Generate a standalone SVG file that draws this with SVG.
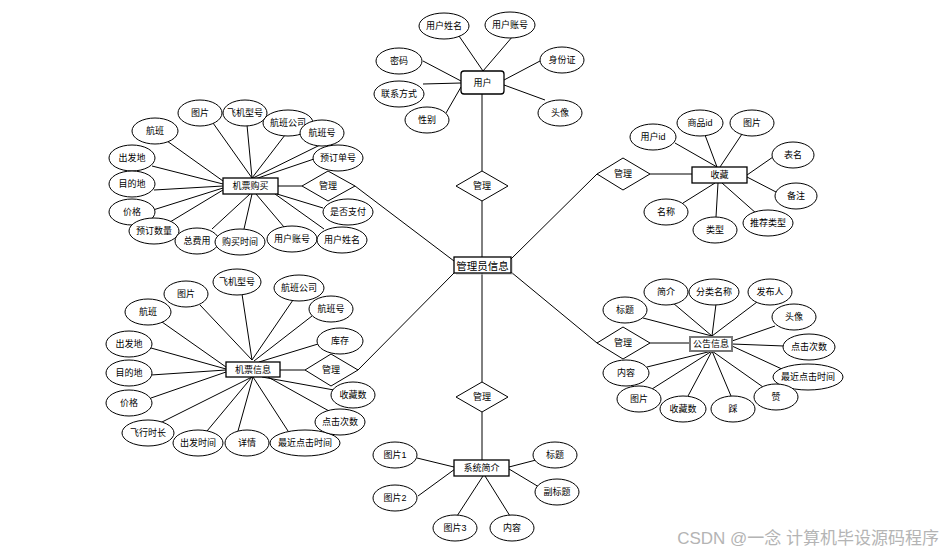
<svg xmlns="http://www.w3.org/2000/svg" width="944" height="552" viewBox="0 0 944 552">
<style>
.l{stroke:#000;stroke-width:1;fill:none}
.e{fill:#fff;stroke:#000;stroke-width:1}
.d{fill:#fff;stroke:#000;stroke-width:1}
.r{fill:#fff;stroke:#000;stroke-width:1.3}
text{font-family:"Liberation Sans","Noto Sans CJK SC",sans-serif;font-size:9px;fill:#000;text-anchor:middle;dominant-baseline:central}
.big{font-size:10.5px}
.wm{font-size:17px;fill:#b4b4b4;text-anchor:end;dominant-baseline:alphabetic}
</style>
<rect width="944" height="552" fill="#fff"/>
<g id="connectors">
<line class="l" x1="459" y1="36" x2="483" y2="71"/>
<line class="l" x1="513" y1="36" x2="483" y2="71"/>
<line class="l" x1="423" y1="61" x2="461" y2="81"/>
<line class="l" x1="540" y1="61" x2="504" y2="80"/>
<line class="l" x1="423" y1="84" x2="461" y2="83"/>
<line class="l" x1="446" y1="113" x2="461" y2="87"/>
<line class="l" x1="545" y1="100" x2="504" y2="85"/>
<line class="l" x1="482" y1="94" x2="482" y2="171"/>
<line class="l" x1="482" y1="201" x2="482" y2="257"/>
<line class="l" x1="482" y1="273" x2="482" y2="382"/>
<line class="l" x1="482" y1="412" x2="482" y2="460"/>
<line class="l" x1="355" y1="186" x2="454" y2="261"/>
<line class="l" x1="358" y1="370" x2="455" y2="272"/>
<line class="l" x1="597" y1="174" x2="511" y2="259"/>
<line class="l" x1="597" y1="343" x2="511" y2="272"/>
<line class="l" x1="278" y1="186" x2="302" y2="186"/>
<line class="l" x1="213" y1="123" x2="252" y2="178"/>
<line class="l" x1="247" y1="125" x2="252" y2="178"/>
<line class="l" x1="285" y1="135" x2="252" y2="178"/>
<line class="l" x1="320" y1="145" x2="253" y2="178"/>
<line class="l" x1="314" y1="159" x2="255" y2="179"/>
<line class="l" x1="167" y1="141" x2="223" y2="181"/>
<line class="l" x1="152" y1="166" x2="223" y2="184"/>
<line class="l" x1="154" y1="190" x2="223" y2="186"/>
<line class="l" x1="153" y1="210" x2="223" y2="188"/>
<line class="l" x1="170" y1="222" x2="223" y2="190"/>
<line class="l" x1="212" y1="229" x2="250" y2="194"/>
<line class="l" x1="244" y1="229" x2="252" y2="194"/>
<line class="l" x1="284" y1="227" x2="256" y2="194"/>
<line class="l" x1="324" y1="229" x2="275" y2="194"/>
<line class="l" x1="323" y1="208" x2="277" y2="194"/>
<line class="l" x1="280" y1="370" x2="305" y2="370"/>
<line class="l" x1="200" y1="305" x2="252" y2="360"/>
<line class="l" x1="242" y1="294" x2="252" y2="360"/>
<line class="l" x1="293" y1="300" x2="252" y2="360"/>
<line class="l" x1="312" y1="316" x2="254" y2="361"/>
<line class="l" x1="318" y1="344" x2="259" y2="362"/>
<line class="l" x1="162" y1="322" x2="226" y2="367"/>
<line class="l" x1="151" y1="348" x2="226" y2="369"/>
<line class="l" x1="151" y1="375" x2="226" y2="370"/>
<line class="l" x1="151" y1="398" x2="226" y2="372"/>
<line class="l" x1="160" y1="423" x2="252" y2="377"/>
<line class="l" x1="207" y1="431" x2="252" y2="377"/>
<line class="l" x1="238" y1="431" x2="253" y2="377"/>
<line class="l" x1="288" y1="431" x2="253" y2="377"/>
<line class="l" x1="329" y1="411" x2="268" y2="377"/>
<line class="l" x1="334" y1="390" x2="262" y2="377"/>
<line class="l" x1="650" y1="174" x2="692" y2="174"/>
<line class="l" x1="675" y1="143" x2="717" y2="167"/>
<line class="l" x1="705" y1="135" x2="717" y2="167"/>
<line class="l" x1="742" y1="134" x2="720" y2="167"/>
<line class="l" x1="773" y1="157" x2="747" y2="175"/>
<line class="l" x1="776" y1="192" x2="747" y2="177"/>
<line class="l" x1="757" y1="214" x2="722" y2="183"/>
<line class="l" x1="716" y1="217" x2="718" y2="183"/>
<line class="l" x1="683" y1="203" x2="715" y2="183"/>
<line class="l" x1="650" y1="343" x2="690" y2="343"/>
<line class="l" x1="643" y1="318" x2="712" y2="336"/>
<line class="l" x1="673" y1="303" x2="712" y2="336"/>
<line class="l" x1="716" y1="304" x2="712" y2="336"/>
<line class="l" x1="757" y1="302" x2="712" y2="336"/>
<line class="l" x1="775" y1="326" x2="732" y2="341"/>
<line class="l" x1="784" y1="346" x2="732" y2="344"/>
<line class="l" x1="784" y1="370" x2="732" y2="346"/>
<line class="l" x1="763" y1="387" x2="712" y2="351"/>
<line class="l" x1="731" y1="396" x2="712" y2="351"/>
<line class="l" x1="688" y1="396" x2="712" y2="351"/>
<line class="l" x1="652" y1="389" x2="712" y2="351"/>
<line class="l" x1="647" y1="367" x2="712" y2="351"/>
<line class="l" x1="417" y1="458" x2="454" y2="467"/>
<line class="l" x1="418" y1="496" x2="455" y2="469"/>
<line class="l" x1="457" y1="516" x2="483" y2="476"/>
<line class="l" x1="510" y1="516" x2="485" y2="476"/>
<line class="l" x1="536" y1="460" x2="509" y2="467"/>
<line class="l" x1="539" y1="487" x2="509" y2="469"/>
</g>

<g id="admin">
<rect x="456" y="259" width="57" height="16" fill="#bbb" opacity="0.5"/>
<rect class="r" x="454" y="257" width="57" height="16"/>
<text class="big" x="482.5" y="265.5">管理员信息</text>
</g>

<g id="user">
<rect class="r" x="461" y="71" width="43" height="23" rx="3"/>
<text x="482.5" y="82.5">用户</text>
</g>
<g id="u-name"><ellipse class="e" cx="444" cy="26" rx="25" ry="13"/><text x="444" y="26">用户姓名</text></g>
<g id="u-acc"><ellipse class="e" cx="510" cy="25" rx="25" ry="13"/><text x="510" y="25">用户账号</text></g>
<g id="u-pwd"><ellipse class="e" cx="399" cy="61" rx="23" ry="13"/><text x="399" y="61">密码</text></g>
<g id="u-id"><ellipse class="e" cx="562" cy="60" rx="22" ry="13"/><text x="562" y="60">身份证</text></g>
<g id="u-contact"><ellipse class="e" cx="399" cy="94" rx="25" ry="13"/><text x="399" y="94">联系方式</text></g>
<g id="u-sex"><ellipse class="e" cx="427" cy="120" rx="22" ry="13"/><text x="427" y="120">性别</text></g>
<g id="u-avatar"><ellipse class="e" cx="560" cy="113" rx="22" ry="13"/><text x="560" y="113">头像</text></g>

<g id="m-top"><polygon class="d" points="482,171 508,186 482,201 456,186"/><text x="482" y="186">管理</text></g>
<g id="m-bottom"><polygon class="d" points="482,382 508,397 482,412 456,397"/><text x="482" y="397">管理</text></g>
<g id="m-buy"><polygon class="d" points="328,171 355,186 328,201 302,186"/><text x="328" y="186">管理</text></g>
<g id="m-ticket"><polygon class="d" points="331,354 358,370 331,386 305,370"/><text x="331" y="370">管理</text></g>
<g id="m-fav"><polygon class="d" points="623,158 650,174 623,190 597,174"/><text x="623" y="174">管理</text></g>
<g id="m-notice"><polygon class="d" points="623,327 650,343 623,359 597,343"/><text x="623" y="343">管理</text></g>

<g id="buy">
<rect class="r" x="223" y="178" width="55" height="16"/>
<text x="250.5" y="186">机票购买</text>
</g>
<g id="b1"><ellipse class="e" cx="200" cy="113" rx="22" ry="13"/><text x="200" y="113">图片</text></g>
<g id="b2"><ellipse class="e" cx="245" cy="113" rx="22" ry="13"/><text x="245" y="113">飞机型号</text></g>
<g id="b3"><ellipse class="e" cx="288" cy="123" rx="25" ry="13"/><text x="288" y="123">航班公司</text></g>
<g id="b4"><ellipse class="e" cx="322" cy="133" rx="22" ry="13"/><text x="322" y="133">航班号</text></g>
<g id="b5"><ellipse class="e" cx="338" cy="158" rx="25" ry="13"/><text x="338" y="158">预订单号</text></g>
<g id="b6"><ellipse class="e" cx="155" cy="131" rx="23" ry="13"/><text x="155" y="131">航班</text></g>
<g id="b7"><ellipse class="e" cx="132" cy="158" rx="23" ry="13"/><text x="132" y="158">出发地</text></g>
<g id="b8"><ellipse class="e" cx="132" cy="184" rx="23" ry="13"/><text x="132" y="184">目的地</text></g>
<g id="b9"><ellipse class="e" cx="132" cy="212" rx="23" ry="13"/><text x="132" y="212">价格</text></g>
<g id="b10"><ellipse class="e" cx="154" cy="231" rx="25" ry="13"/><text x="154" y="231">预订数量</text></g>
<g id="b11"><ellipse class="e" cx="197" cy="241" rx="22" ry="13"/><text x="197" y="241">总费用</text></g>
<g id="b12"><ellipse class="e" cx="240" cy="242" rx="25" ry="13"/><text x="240" y="242">购买时间</text></g>
<g id="b13"><ellipse class="e" cx="292" cy="239" rx="25" ry="13"/><text x="292" y="239">用户账号</text></g>
<g id="b14"><ellipse class="e" cx="342" cy="240" rx="25" ry="13"/><text x="342" y="240">用户姓名</text></g>
<g id="b15"><ellipse class="e" cx="348" cy="212" rx="25" ry="13"/><text x="348" y="212">是否支付</text></g>

<g id="ticket">
<rect class="r" x="226" y="362" width="54" height="15"/>
<text x="253" y="369.5">机票信息</text>
</g>
<g id="t1"><ellipse class="e" cx="186" cy="294" rx="22" ry="13"/><text x="186" y="294">图片</text></g>
<g id="t2"><ellipse class="e" cx="237" cy="282" rx="24" ry="13"/><text x="237" y="282">飞机型号</text></g>
<g id="t3"><ellipse class="e" cx="299" cy="288" rx="25" ry="13"/><text x="299" y="288">航班公司</text></g>
<g id="t4"><ellipse class="e" cx="331" cy="309" rx="22" ry="13"/><text x="331" y="309">航班号</text></g>
<g id="t5"><ellipse class="e" cx="340" cy="341" rx="23" ry="13"/><text x="340" y="341">库存</text></g>
<g id="t6"><ellipse class="e" cx="148" cy="312" rx="23" ry="13"/><text x="148" y="312">航班</text></g>
<g id="t7"><ellipse class="e" cx="129" cy="344" rx="23" ry="13"/><text x="129" y="344">出发地</text></g>
<g id="t8"><ellipse class="e" cx="129" cy="373" rx="23" ry="13"/><text x="129" y="373">目的地</text></g>
<g id="t9"><ellipse class="e" cx="129" cy="403" rx="23" ry="13"/><text x="129" y="403">价格</text></g>
<g id="t10"><ellipse class="e" cx="148" cy="433" rx="26" ry="13"/><text x="148" y="433">飞行时长</text></g>
<g id="t11"><ellipse class="e" cx="198" cy="443" rx="25" ry="13"/><text x="198" y="443">出发时间</text></g>
<g id="t12"><ellipse class="e" cx="247" cy="443" rx="22" ry="13"/><text x="247" y="443">详情</text></g>
<g id="t13"><ellipse class="e" cx="305" cy="443" rx="35" ry="13"/><text x="305" y="443">最近点击时间</text></g>
<g id="t14"><ellipse class="e" cx="340" cy="422" rx="25" ry="13"/><text x="340" y="422">点击次数</text></g>
<g id="t15"><ellipse class="e" cx="353" cy="395" rx="22" ry="13"/><text x="353" y="395">收藏数</text></g>

<g id="fav">
<rect class="r" x="692" y="167" width="55" height="16"/>
<text x="719.5" y="175">收藏</text>
</g>
<g id="f1"><ellipse class="e" cx="653" cy="137" rx="23" ry="13"/><text x="653" y="137">用户id</text></g>
<g id="f2"><ellipse class="e" cx="700" cy="123" rx="23" ry="13"/><text x="700" y="123">商品id</text></g>
<g id="f3"><ellipse class="e" cx="752" cy="123" rx="22" ry="13"/><text x="752" y="123">图片</text></g>
<g id="f4"><ellipse class="e" cx="793" cy="155" rx="21" ry="13"/><text x="793" y="155">表名</text></g>
<g id="f5"><ellipse class="e" cx="796" cy="196" rx="21" ry="13"/><text x="796" y="196">备注</text></g>
<g id="f6"><ellipse class="e" cx="768" cy="223" rx="25" ry="13"/><text x="768" y="223">推荐类型</text></g>
<g id="f7"><ellipse class="e" cx="715" cy="230" rx="22" ry="13"/><text x="715" y="230">类型</text></g>
<g id="f8"><ellipse class="e" cx="666" cy="212" rx="22" ry="13"/><text x="666" y="212">名称</text></g>

<g id="notice">
<rect x="690" y="337" width="42" height="14" fill="#fff" stroke="#777" stroke-width="2"/>
<text x="711" y="344">公告信息</text>
</g>
<g id="n1"><ellipse class="e" cx="625" cy="310" rx="22" ry="13"/><text x="625" y="310">标题</text></g>
<g id="n2"><ellipse class="e" cx="666" cy="292" rx="22" ry="13"/><text x="666" y="292">简介</text></g>
<g id="n3"><ellipse class="e" cx="714" cy="292" rx="25" ry="13"/><text x="714" y="292">分类名称</text></g>
<g id="n4"><ellipse class="e" cx="770" cy="292" rx="22" ry="13"/><text x="770" y="292">发布人</text></g>
<g id="n5"><ellipse class="e" cx="794" cy="317" rx="22" ry="13"/><text x="794" y="317">头像</text></g>
<g id="n6"><ellipse class="e" cx="809" cy="347" rx="26" ry="13"/><text x="809" y="347">点击次数</text></g>
<g id="n7"><ellipse class="e" cx="808" cy="377" rx="35" ry="13"/><text x="808" y="377">最近点击时间</text></g>
<g id="n8"><ellipse class="e" cx="776" cy="397" rx="22" ry="13"/><text x="776" y="397">赞</text></g>
<g id="n9"><ellipse class="e" cx="733" cy="409" rx="22" ry="13"/><text x="733" y="409">踩</text></g>
<g id="n10"><ellipse class="e" cx="683" cy="409" rx="23" ry="13"/><text x="683" y="409">收藏数</text></g>
<g id="n11"><ellipse class="e" cx="639" cy="399" rx="22" ry="13"/><text x="639" y="399">图片</text></g>
<g id="n12"><ellipse class="e" cx="626" cy="373" rx="23" ry="13"/><text x="626" y="373">内容</text></g>

<g id="intro">
<rect class="r" x="454" y="460" width="55" height="16"/>
<text x="481.5" y="468">系统简介</text>
</g>
<g id="s1"><ellipse class="e" cx="395" cy="455" rx="22" ry="13"/><text x="395" y="455">图片1</text></g>
<g id="s2"><ellipse class="e" cx="395" cy="498" rx="22" ry="13"/><text x="395" y="498">图片2</text></g>
<g id="s3"><ellipse class="e" cx="455" cy="528" rx="22" ry="13"/><text x="455" y="528">图片3</text></g>
<g id="s4"><ellipse class="e" cx="512" cy="528" rx="22" ry="13"/><text x="512" y="528">内容</text></g>
<g id="s5"><ellipse class="e" cx="555" cy="455" rx="22" ry="13"/><text x="555" y="455">标题</text></g>
<g id="s6"><ellipse class="e" cx="557" cy="492" rx="22" ry="13"/><text x="557" y="492">副标题</text></g>

<text class="wm" x="939" y="544">CSDN @一念 计算机毕设源码程序</text>
</svg>
